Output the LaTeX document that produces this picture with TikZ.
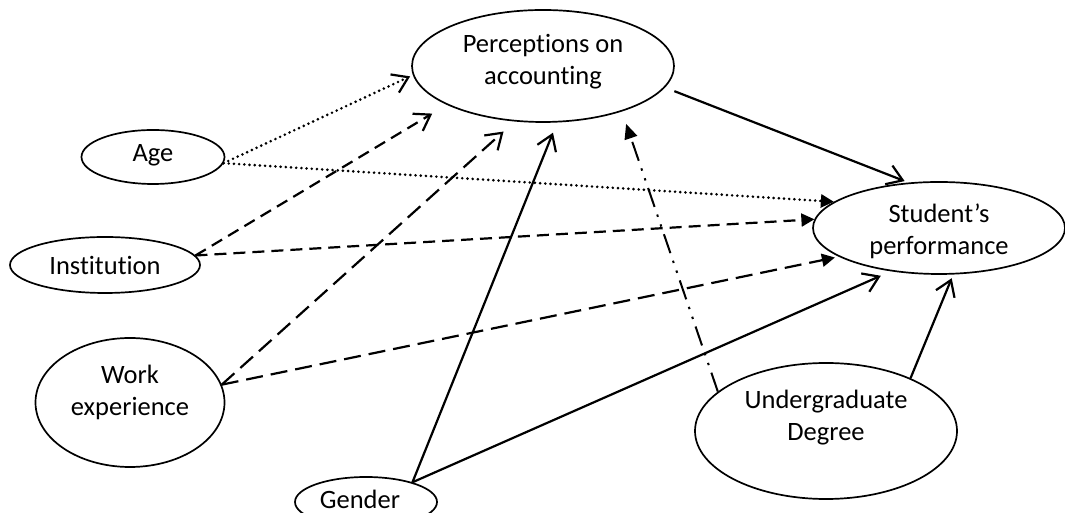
\documentclass[tikz,border=0pt]{standalone}
\usepackage{fontspec}
\setmainfont{Carlito}[Ligatures=NoCommon]
\usetikzlibrary{arrows.meta,shapes.geometric}
\begin{document}
\begin{tikzpicture}[x=1pt,y=1pt,
  oval/.style={draw,ellipse,line width=1.7pt,inner sep=0pt},
  lbl/.style={align=center,inner sep=0pt,font=\fontsize{26.5}{32}\selectfont},
  link/.style={line width=2.2pt},
  opentip/.style={-{Straight Barb[length=15pt,width=20pt,line width=2.2pt]}},
  filltip/.style={-{Triangle[length=13pt,width=13pt]}},
  dotline/.style={line cap=round,dash pattern=on 0pt off 5.2pt,line width=2.9pt},
  dashline/.style={link,dash pattern=on 12pt off 7pt},
  longdash/.style={link,dash pattern=on 17pt off 8pt},
  dashdotdot/.style={line width=2pt,dash pattern=on 20pt off 8pt on 2.4pt off 8pt on 2.4pt off 8pt}
]
\useasboundingbox (0,0) rectangle (1065,513);
\fill[white] (0,0) rectangle (1065,513);

% ellipses
\node[oval,minimum width=262pt,minimum height=112pt] (perc) at (543,447) {};
\node[oval,minimum width=143pt,minimum height=54pt] (age) at (153,356) {};
\node[oval,minimum width=190pt,minimum height=56pt] (inst) at (105,248) {};
\node[oval,minimum width=189pt,minimum height=129pt] (work) at (130,110.5) {};
\node[oval,minimum width=142pt,minimum height=50pt] (gender) at (366,11) {};
\node[oval,minimum width=252pt,minimum height=92pt] (stud) at (939,285) {};
\node[oval,minimum width=262pt,minimum height=136pt] (ug) at (826,82) {};

% labels
\node[lbl] (percT) at (543,451) {Perceptions on\\accounting};
\node[lbl] (ageT) at (153,358) {Age};
\node[lbl] (instT) at (105,248) {Institution};
\node[lbl] (workT) at (130,121) {Work\\experience};
\node[lbl] (genderT) at (360,14) {Gender};
\node[lbl] (studT) at (939,282) {Student’s\\performance};
\node[lbl] (ugT) at (826,95) {Undergraduate\\Degree};

% connectors
\draw[dotline,opentip,shorten >=3pt] (age.-5) -- (perc.184);
\draw[dotline,filltip] (age.-5) -- (stud.166);
\draw[dashline,opentip,shorten >=17pt] (inst.6) -- (perc.202);
\draw[dashline,filltip] (inst.6) -- (stud.176);
\draw[longdash,opentip,shorten >=15pt] (work.11) -- (perc.243);
\draw[longdash,filltip,shorten >=4pt] (work.11) -- (stud.196);
\draw[link,opentip,shorten >=11pt] (gender.23) -- (perc.284);
\draw[link,opentip,shorten >=11pt] (gender.23) -- (stud.222);
\draw[link,opentip,shorten <=10pt,shorten >=4pt] (perc.-10.6) -- (stud.124);
\draw[dashdotdot,-{Triangle[length=15pt,width=13pt]},shorten >=13pt] (ug.160) -- (perc.-30);
\draw[link,opentip,shorten >=4pt] (ug.32) -- (stud.-73);
\end{tikzpicture}
\end{document}
